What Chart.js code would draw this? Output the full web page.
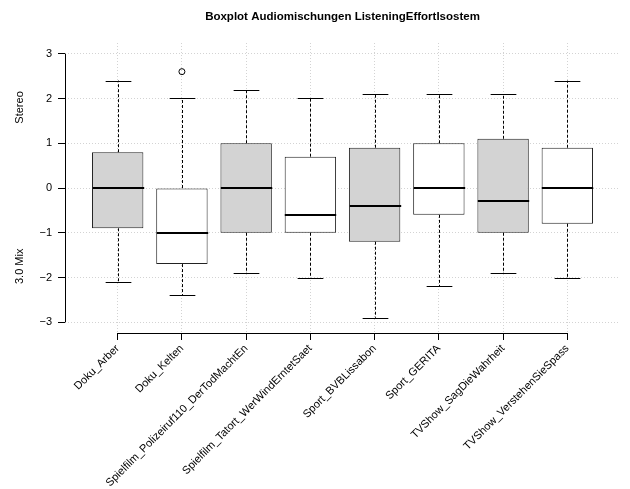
<!DOCTYPE html>
<html>
<head>
<meta charset="utf-8">
<script src="https://cdn.jsdelivr.net/npm/chart.js@4/dist/chart.umd.min.js"></script>
<style>
  html, body { margin: 0; padding: 0; background: #fff; }
  #wrap { width: 630px; height: 489px; }
</style>
</head>
<body>
<div id="wrap"><canvas id="box"></canvas></div>
<script>
/* ---------- DATA ---------- */
const CATEGORIES = [
    "Doku_Arber", "Doku_Kelten", "Spielfilm_Polizeiruf110_DerTodMachtEn",
    "Spielfilm_Tatort_WerWindErntetSaet", "Sport_BVBLissabon", "Sport_GERITA",
    "TVShow_SagDieWahrheit", "TVShow_VerstehenSieSpass"
];
const WHISKER_LOW  = [-2.1, -2.4, -1.9, -2.0, -2.9, -2.2, -1.9, -2.0];
const Q1           = [-0.9, -1.7, -1.0, -1.0, -1.2, -0.6, -1.0, -0.8];
const MEDIAN       = [ 0.0, -1.0,  0.0, -0.6, -0.4,  0.0, -0.3,  0.0];
const Q3           = [ 0.8,  0.0,  1.0,  0.7,  0.9,  1.0,  1.1,  0.9];
const WHISKER_HIGH = [ 2.4,  2.0,  2.2,  2.0,  2.1,  2.1,  2.1,  2.4];
const OUTLIERS     = [{ cat: 2, value: 2.6 }];
const Y_TICKS      = [-3, -2, -1, 0, 1, 2, 3];

const TITLE = "Boxplot Audiomischungen ListeningEffortIsostem";
const Y_LABELS = [{ text: "Stereo", at: 1.8 }, { text: "3.0 Mix", at: -1.75 }];

/* ---------- STYLE ---------- */
const FONT = "'Liberation Sans', Arial, Helvetica, sans-serif";
const FILLS = CATEGORIES.map((c, i) => i % 2 === 0 ? "#d3d3d3" : "#ffffff");
const GRID = "#d3d3d3";

/* whiskers, caps, medians, axis lines, titles */
const boxExtras = {
    id: "boxExtras",
    afterDatasetsDraw(chart) {
        const { ctx, scales: { x, y } } = chart;
        const meta = chart.getDatasetMeta(0);
        ctx.save();
        ctx.strokeStyle = "#000";
        CATEGORIES.forEach((c, i) => {
            const bar = meta.data[i];
            const cx = Math.round(x.getPixelForValue(i + 1)) + 0.5;
            const half = bar.width / 2;
            const cap = half / 2;

            // dashed whiskers
            ctx.lineWidth = 1;
            ctx.setLineDash([3, 2]);
            ctx.beginPath();
            ctx.moveTo(cx, y.getPixelForValue(Q3[i]));
            ctx.lineTo(cx, y.getPixelForValue(WHISKER_HIGH[i]));
            ctx.moveTo(cx, y.getPixelForValue(Q1[i]));
            ctx.lineTo(cx, y.getPixelForValue(WHISKER_LOW[i]));
            ctx.stroke();

            // caps
            ctx.setLineDash([]);
            ctx.beginPath();
            const yh = Math.round(y.getPixelForValue(WHISKER_HIGH[i])) + 0.5;
            const yl = Math.round(y.getPixelForValue(WHISKER_LOW[i])) + 0.5;
            ctx.moveTo(cx - cap, yh); ctx.lineTo(cx + cap, yh);
            ctx.moveTo(cx - cap, yl); ctx.lineTo(cx + cap, yl);
            ctx.stroke();

            // median
            ctx.lineWidth = 2;
            ctx.beginPath();
            const ym = Math.round(y.getPixelForValue(MEDIAN[i]));
            ctx.moveTo(cx - half, ym); ctx.lineTo(cx + half, ym);
            ctx.stroke();
        });

        // axis lines (first to last tick, like R)
        ctx.lineWidth = 1;
        ctx.beginPath();
        const ax = chart.chartArea.left + 0.5;
        ctx.moveTo(ax, y.getPixelForValue(Y_TICKS[Y_TICKS.length - 1]));
        ctx.lineTo(ax, y.getPixelForValue(Y_TICKS[0]));
        const ay = chart.chartArea.bottom + 0.5;
        ctx.moveTo(x.getPixelForValue(1), ay);
        ctx.lineTo(x.getPixelForValue(CATEGORIES.length), ay);
        ctx.stroke();

        // title
        ctx.fillStyle = "#000";
        ctx.font = "bold 11.5px " + FONT;
        ctx.textAlign = "center";
        ctx.textBaseline = "middle";
        ctx.fillText(TITLE, (chart.chartArea.left + chart.chartArea.right) / 2, 17);

        // y labels
        ctx.font = "11px " + FONT;
        Y_LABELS.forEach(l => {
            ctx.save();
            ctx.translate(20, y.getPixelForValue(l.at));
            ctx.rotate(-Math.PI / 2);
            ctx.fillText(l.text, 0, 0);
            ctx.restore();
        });
        ctx.restore();
    }
};

new Chart(document.getElementById("box"), {
    type: "bar",
    data: {
        datasets: [{
            type: "bar",
            data: CATEGORIES.map((c, i) => ({ x: i + 1, y: [Q1[i], Q3[i]] })),
            backgroundColor: FILLS,
            borderColor: "#222",
            borderWidth: 1,
            borderSkipped: false,
            categoryPercentage: 1,
            barPercentage: 0.8
        }, {
            type: "scatter",
            data: OUTLIERS.map(o => ({ x: o.cat, y: o.value })),
            pointStyle: "circle",
            pointRadius: 3,
            pointBorderColor: "#000",
            pointBackgroundColor: "rgba(0,0,0,0)",
            pointBorderWidth: 1
        }]
    },
    options: {
        responsive: true,
        maintainAspectRatio: false,
        animation: false,
        layout: { padding: { top: 43, right: 10, left: 0, bottom: 0 } },
        plugins: {
            legend: { display: false },
            tooltip: { enabled: false }
        },
        scales: {
            x: {
                type: "linear",
                offset: false,
                min: 0.18,
                max: CATEGORIES.length + 0.82,
                afterBuildTicks: s => { s.ticks = CATEGORIES.map((c, i) => ({ value: i + 1 })); },
                afterFit: s => { s.height = 156; },
                border: { display: false, dash: [1, 2] },
                grid: {
                    offset: false,
                    color: GRID,
                    tickColor: "#000",
                    tickLength: 7,
                    tickBorderDash: []
                },
                ticks: {
                    autoSkip: false,
                    minRotation: 45,
                    maxRotation: 45,
                    padding: 2,
                    color: "#000",
                    font: { family: FONT, size: 11 },
                    callback: v => CATEGORIES[v - 1]
                }
            },
            y: {
                min: -3.24,
                max: 3.24,
                afterBuildTicks: s => { s.ticks = Y_TICKS.map(v => ({ value: v })); },
                afterFit: s => { s.width = 65; },
                border: { display: false, dash: [1, 2] },
                grid: {
                    color: GRID,
                    tickColor: "#000",
                    tickLength: 7,
                    tickBorderDash: []
                },
                ticks: {
                    padding: 6,
                    color: "#000",
                    font: { family: FONT, size: 11 },
                    callback: v => v < 0 ? "\u2212" + Math.abs(v) : String(v)
                }
            }
        }
    },
    plugins: [boxExtras]
});
</script>
</body>
</html>
